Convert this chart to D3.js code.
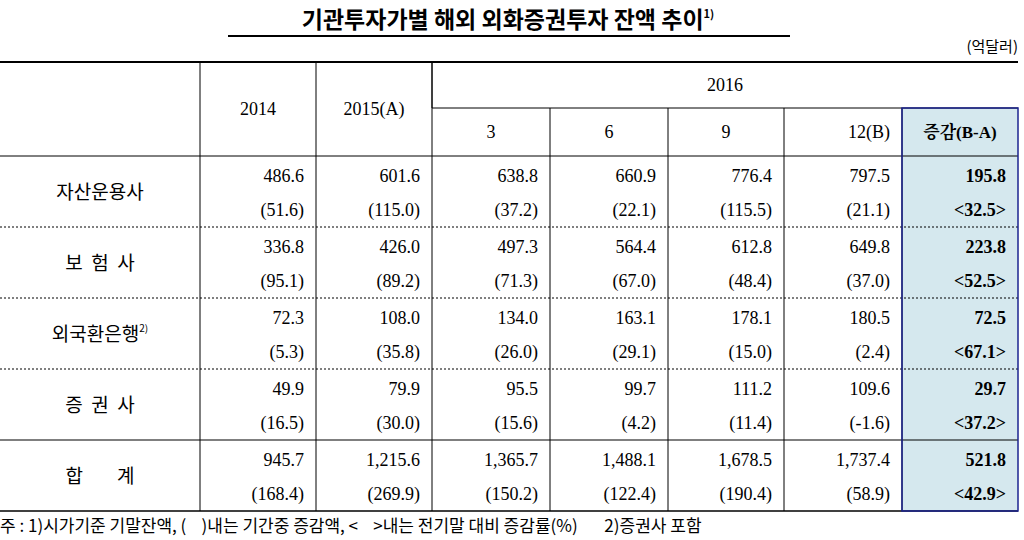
<!DOCTYPE html><html><head><meta charset="utf-8"><script src="https://d3js.org/d3.v7.min.js"></script>
<style>body{margin:0;background:#fff}</style></head><body><svg id="c" width="1024" height="540"></svg>
<script>
const title="기관투자가별 해외 외화증권투자 잔액 추이";
const unit="(억달러)";
const colHeads=["2014","2015(A)","3","6","9","12(B)","증감(B-A)"];
const categories=["자산운용사","보  험  사","외국환은행","증  권  사","합        계"];
const balances=[["486.6","601.6","638.8","660.9","776.4","797.5","195.8"],["336.8","426.0","497.3","564.4","612.8","649.8","223.8"],["72.3","108.0","134.0","163.1","178.1","180.5","72.5"],["49.9","79.9","95.5","99.7","111.2","109.6","29.7"],["945.7","1,215.6","1,365.7","1,488.1","1,678.5","1,737.4","521.8"]];
const changes=[["(51.6)","(115.0)","(37.2)","(22.1)","(115.5)","(21.1)","<32.5>"],["(95.1)","(89.2)","(71.3)","(67.0)","(48.4)","(37.0)","<52.5>"],["(5.3)","(35.8)","(26.0)","(29.1)","(15.0)","(2.4)","<67.1>"],["(16.5)","(30.0)","(15.6)","(4.2)","(11.4)","(-1.6)","<37.2>"],["(168.4)","(269.9)","(150.2)","(122.4)","(190.4)","(58.9)","<42.9>"]];
const note="주 : 1)시가기준 기말잔액, (    )내는 기간중 증감액, <    >내는 전기말 대비 증감률(%)       2)증권사 포함";
(function(){
const svg=d3.select("#c");
const serif="'Liberation Serif','Noto Serif CJK KR','Noto Sans CJK KR',serif";
const kr="'Noto Sans CJK KR',sans-serif";
const xs=[0,200,316,432,550,668,784,902,1018];
const tp=62,sub=108,hb=156,rowH=71, bottom=hb+rowH*5;
const y=d3.scaleLinear().domain([0,5]).range([hb,bottom]);
svg.append("rect").attr("x",xs[7]).attr("y",sub).attr("width",xs[8]-xs[7]).attr("height",bottom-sub).attr("fill","#d5e8ee");
const t=svg.append("text").attr("x",508).attr("y",28).attr("text-anchor","middle").attr("font-family",kr).attr("font-weight","bold").attr("font-size",23).text(title);
t.append("tspan").attr("font-size",11).attr("dy",-10).text("1)");
svg.append("line").attr("x1",228).attr("x2",790).attr("y1",36).attr("y2",36).attr("stroke","#000").attr("stroke-width",2);
svg.append("text").attr("x",1018).attr("y",52).attr("text-anchor","end").attr("font-family",kr).attr("font-size",15).text(unit);
const L=(x1,y1,x2,y2,w=1,dash=null)=>svg.append("line").attr("x1",x1).attr("y1",y1).attr("x2",x2).attr("y2",y2).attr("stroke","#000").attr("stroke-width",w).attr("stroke-dasharray",dash);
L(0,tp,1018,tp,2);
L(xs[3],sub,1018,sub);
L(0,hb,1018,hb);
for(let i=1;i<5;i++){ if(i===4) L(0,y(i),1018,y(i),1.2); else L(0,y(i),1018,y(i),1,"2,2"); }
L(0,bottom,1018,bottom,1.5);
xs.slice(1,8).forEach((x,i)=>L(x,(i>=3?sub:tp),x,bottom));
L(xs[3],tp,xs[3],sub);
svg.append("rect").attr("x",xs[7]).attr("y",sub).attr("width",xs[8]-xs[7]).attr("height",bottom-sub).attr("fill","none").attr("stroke","#1c2590").attr("stroke-width",1.5);
const T=(x,yy,s,anchor,opt={})=>svg.append("text").attr("x",x).attr("y",yy).attr("text-anchor",anchor).attr("font-family",opt.f||serif).attr("font-size",opt.s||18).attr("font-weight",opt.b?"bold":"normal").text(s);
T((xs[1]+xs[2])/2,(tp+hb)/2+6,colHeads[0],"middle");
T((xs[2]+xs[3])/2,(tp+hb)/2+6,colHeads[1],"middle");
T((xs[3]+xs[8])/2,91,"2016","middle");
for(let j=2;j<5;j++) T((xs[j+1]+xs[j+2])/2,138,colHeads[j],"middle");
T(xs[7]-12,138,colHeads[5],"end");
T((xs[7]+xs[8])/2,138,colHeads[6],"middle",{b:true,s:17});
categories.forEach((c,i)=>{
  const tt=T(100,y(i)+rowH/2+7,c,"middle",{f:kr,s:19});
  tt.attr("xml:space","preserve").style("white-space","pre");
  if(i===2) tt.append("tspan").attr("font-size",10).attr("dy",-9).text("2)");
  balances[i].forEach((v,j)=>T(xs[j+2]-12,y(i)+26,v,"end",{b:j===6}));
  changes[i].forEach((v,j)=>T(xs[j+2]-12,y(i)+60,v,"end",{b:j===6}));
});
svg.append("text").attr("x",0).attr("y",532).attr("font-family",kr).attr("font-size",17).style("white-space","pre").text(note);
})();
</script></body></html>
